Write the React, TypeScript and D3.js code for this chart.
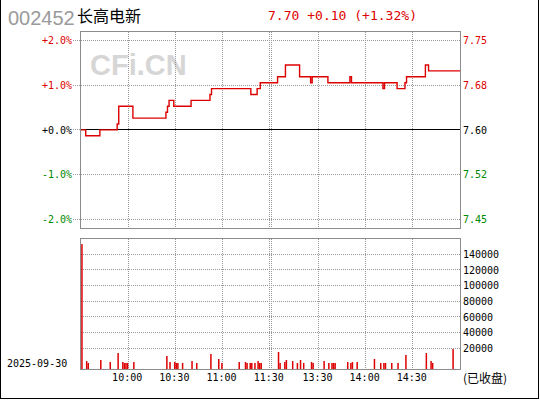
import React from "react";
import * as d3 from "d3";

// ---------- data ----------
const stockCode = "002452";
const stockName = "长高电新";
const quoteText = "7.70 +0.10 (+1.32%)";
const dateLabel = "2025-09-30";
const closedLabel = "(已收盘)";
const prevClose = 7.6;

const pctTicks = [2, 1, 0, -1, -2];
const pctTickLabels = ["+2.0%", "+1.0%", "+0.0%", "-1.0%", "-2.0%"];
const priceTickLabels = ["7.75", "7.68", "7.60", "7.52", "7.45"];

const volTicks = [20000, 40000, 60000, 80000, 100000, 120000, 140000];

const gridTimes = ["10:00", "10:30", "11:00", "11:30", "13:00", "13:30", "14:00", "14:30"];
const timeTickLabels = ["10:00", "10:30", "11:00", "11:30", "13:30", "14:00", "14:30"];

// price changes (step series)
const priceTimes = [
  "09:30", "09:33", "09:42", "09:53", "09:54", "10:03", "10:24", "10:25", "10:26", "10:29",
  "10:40", "10:52", "10:53", "11:18", "11:22", "11:24", "13:04", "13:09", "13:18", "13:25",
  "13:26", "13:36", "13:50", "13:51", "14:11", "14:12", "14:20", "14:25", "14:26", "14:38",
  "14:40", "15:00",
];
const priceValues = [
  7.60, 7.59, 7.60, 7.61, 7.64, 7.62, 7.63, 7.64, 7.65, 7.64,
  7.65, 7.66, 7.67, 7.66, 7.67, 7.68, 7.69, 7.71, 7.69, 7.68,
  7.69, 7.68, 7.69, 7.68, 7.67, 7.68, 7.67, 7.68, 7.69, 7.71,
  7.70, 7.70,
];

const volTimes = [
  "09:30", "09:33", "09:34", "09:42", "09:48", "09:53", "09:56", "09:57", "09:58", "09:59",
  "10:03", "10:24", "10:26", "10:29", "10:30", "10:31", "10:34", "10:40", "10:43", "10:52",
  "10:57", "10:59", "11:10", "11:14", "11:15", "11:17", "11:18", "11:20", "11:22", "11:23",
  "11:24", "13:04", "13:05", "13:08", "13:09", "13:13", "13:16", "13:18", "13:20", "13:25",
  "13:26", "13:33", "13:36", "13:38", "13:39", "13:40", "13:48", "13:50", "13:51", "13:54",
  "14:05", "14:09", "14:11", "14:12", "14:16", "14:20", "14:25", "14:38", "14:41", "14:42",
  "14:55",
];
const volValues = [
  153000, 3800, 1300, 5100, 2500, 14000, 2500, 1300, 1300, 1300,
  2500, 10200, 2500, 2500, 1300, 1300, 1300, 3800, 1300, 12800,
  6400, 1300, 2500, 2500, 1300, 1300, 1300, 1300, 3800, 1300,
  1300, 15300, 1300, 2500, 5100, 3800, 1300, 5100, 1300, 2500,
  1300, 3800, 1300, 1300, 1300, 1300, 2500, 1300, 2500, 2500,
  6400, 1300, 1300, 1300, 1300, 1300, 11500, 14000, 3800, 1300,
  19100,
];

// ---------- helpers ----------
function timeIndex(t: string): number {
  const [h, m] = t.split(":").map(Number);
  const mins = h * 60 + m;
  if (mins <= 11 * 60 + 30) return mins - (9 * 60 + 30);
  return 121 + mins - 13 * 60;
}

const RED = "#dd0000";
const GREEN = "#008800";
const GRID = "#999999";
const BORDER = "#8c8c8c";
const MONO = "'DejaVu Sans Mono', 'Liberation Mono', monospace";

export default function App() {
  const W = 540;
  const H = 400;
  const left = 80.5;
  const right = 460.5;
  const pTop = 31.5;
  const pBottom = 228.5;
  const vTop = 238.5;
  const vBottom = 369.5;

  const x = d3.scaleLinear().domain([0, 241]).range([81, 460]);
  const yP = d3.scaleLinear().domain([-2, 2]).range([219.6, 40.2]);
  const yV = d3.scaleLinear().domain([0, 140000]).range([364, 254.3]);

  const pricePts = priceTimes.map((t, i) => ({
    i: timeIndex(t),
    pct: ((priceValues[i] - prevClose) / prevClose) * 100,
  }));
  const line = d3
    .line<{ i: number; pct: number }>()
    .x((d) => x(d.i))
    .y((d) => yP(d.pct))
    .curve(d3.curveStepAfter);

  const pctColor = (v: number) => (v > 0 ? RED : v < 0 ? GREEN : "#000");

  return (
    <svg
      width={W}
      height={H}
      style={{ position: "absolute", left: 0, top: 0, background: "#fff" }}
    >
      <rect x={0} y={0} width={W} height={H} fill="#fff" />
      {/* outer frame: left, right, bottom */}
      <path d="M0.5,0 V398.5 H538.5 V0" fill="none" stroke="#000" strokeWidth={1} shapeRendering="crispEdges" />

      {/* header */}
      <text x={8} y={25} fontFamily="'Liberation Sans', Arial, sans-serif" fontSize={20} fill="#9a9a9a">
        {stockCode}
      </text>
      <text x={77} y={22} fontFamily="'Noto Sans CJK SC', sans-serif" fontSize={16} fill="#000">
        {stockName}
      </text>
      <text x={268} y={20} fontFamily={MONO} fontSize={13} fill={RED} textLength={149} lengthAdjust="spacingAndGlyphs">
        {quoteText}
      </text>

      {/* watermark */}
      <text x={90} y={75} fontFamily="'Liberation Sans', Arial, sans-serif" fontWeight="bold" fontSize={29} fill="#d6d6d6">
        CFi.CN
      </text>

      {/* price panel grid */}
      {pctTicks.map((v, k) =>
        v === 0 ? null : (
          <line key={"ph" + k} x1={73} x2={right} y1={yP(v)} y2={yP(v)} stroke={GRID} strokeDasharray="1,1" shapeRendering="crispEdges" />
        )
      )}
      <line x1={73} x2={left} y1={yP(0)} y2={yP(0)} stroke={GRID} strokeDasharray="1,1" shapeRendering="crispEdges" />
      {gridTimes.map((t) => (
        <line key={"pv" + t} x1={x(timeIndex(t))} x2={x(timeIndex(t))} y1={pTop} y2={pBottom} stroke={GRID} strokeDasharray="1,1" shapeRendering="crispEdges" />
      ))}
      <line x1={left} x2={right} y1={yP(0)} y2={yP(0)} stroke="#000" strokeWidth={1} shapeRendering="crispEdges" />
      <rect x={left} y={pTop} width={right - left} height={pBottom - pTop} fill="none" stroke={BORDER} shapeRendering="crispEdges" />

      {/* price line */}
      <path d={line(pricePts) || ""} fill="none" stroke={RED} strokeWidth={1.4} />

      {/* price axis labels */}
      {pctTicks.map((v, k) => (
        <text key={"pl" + k} x={72} y={yP(v) + 3.6} textAnchor="end" fontFamily={MONO} fontSize={10} fill={pctColor(v)}>
          {pctTickLabels[k]}
        </text>
      ))}
      {pctTicks.map((v, k) => (
        <text key={"pr" + k} x={463} y={yP(v) + 3.6} fontFamily={MONO} fontSize={10} fill={pctColor(v)}>
          {priceTickLabels[k]}
        </text>
      ))}

      {/* volume panel grid */}
      {volTicks.map((v) => (
        <line key={"vh" + v} x1={left} x2={right} y1={yV(v)} y2={yV(v)} stroke={GRID} strokeDasharray="1,1" shapeRendering="crispEdges" />
      ))}
      {gridTimes.map((t) => (
        <line key={"vv" + t} x1={x(timeIndex(t))} x2={x(timeIndex(t))} y1={vTop} y2={vBottom} stroke={GRID} strokeDasharray="1,1" shapeRendering="crispEdges" />
      ))}

      {/* volume bars */}
      {volTimes.map((t, k) => (
        <rect
          key={"b" + k}
          x={x(timeIndex(t)) + 0.2}
          width={1.5}
          y={yV(volValues[k])}
          height={vBottom - yV(volValues[k])}
          fill={RED}
        />
      ))}
      <rect x={left} y={vTop} width={right - left} height={vBottom - vTop} fill="none" stroke={BORDER} shapeRendering="crispEdges" />

      {/* volume labels */}
      {volTicks.map((v) => (
        <text key={"vl" + v} x={463} y={yV(v) + 3.6} fontFamily={MONO} fontSize={10} fill="#000">
          {String(v)}
        </text>
      ))}

      {/* time labels */}
      {timeTickLabels.map((t) => (
        <text key={"tl" + t} x={x(timeIndex(t)) - 1} y={381} textAnchor="middle" fontFamily={MONO} fontSize={10} fill="#000">
          {t}
        </text>
      ))}
      <text x={7} y={367} fontFamily={MONO} fontSize={10} fill="#000">
        {dateLabel}
      </text>
      <text x={463} y={383} fontFamily="'Noto Sans CJK SC', sans-serif" fontSize={12} fill="#000">
        {closedLabel}
      </text>
    </svg>
  );
}
